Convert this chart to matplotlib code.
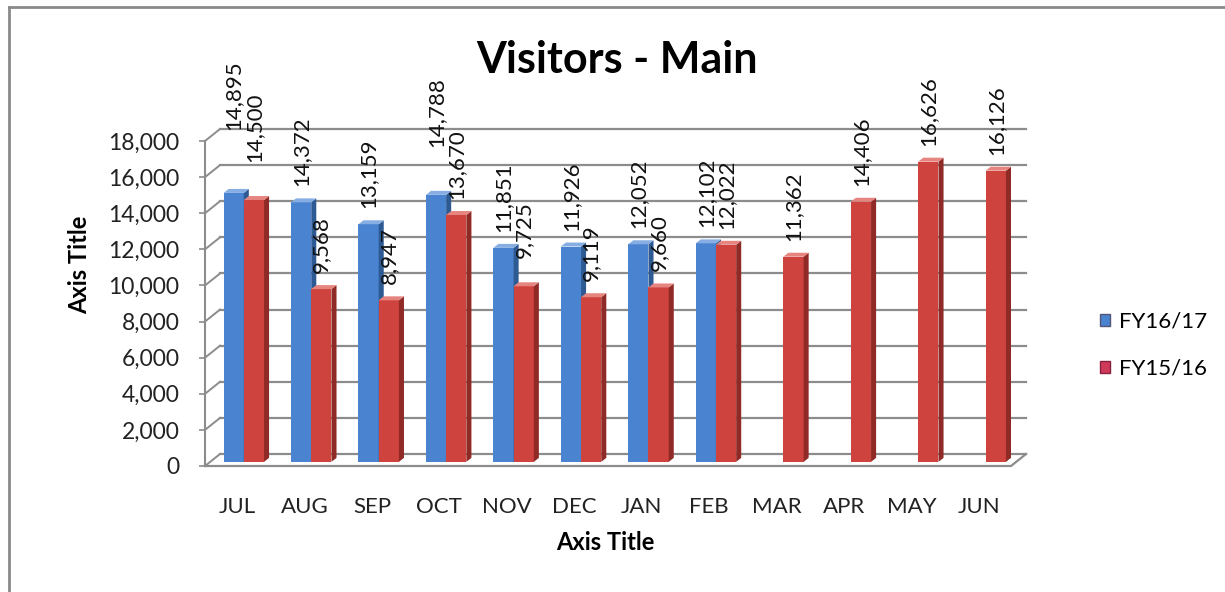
import matplotlib.pyplot as plt
from matplotlib.patches import Polygon, Rectangle, Patch
from matplotlib.lines import Line2D
import numpy as np

plt.rcParams['font.family'] = ['Lato', 'DejaVu Sans']

months = ["JUL", "AUG", "SEP", "OCT", "NOV", "DEC", "JAN", "FEB", "MAR", "APR", "MAY", "JUN"]
fy1617 = [14895, 14372, 13159, 14788, 11851, 11926, 12052, 12102, np.nan, np.nan, np.nan, np.nan]
fy1516 = [14500, 9568, 8947, 13670, 9725, 9119, 9660, 12022, 11362, 14406, 16626, 16126]
yticks = list(range(0, 18001, 2000))

# style
blue = ("#4A83CF", "#2E5A93", "#86AEE2")   # front, side, top
red = ("#CF433E", "#8F2A27", "#E68580")
grid_c = "#8C8C8C"
dxw, dyw = 0.223, 665     # back wall offset (category units, value units)
dxb, dyb = 0.075, 220     # bar depth
lift = 230
bw = 0.3
# extra label lift (px) where excel pushed labels up
extra = {(0, 0): 47, (1, 0): 22, (0, 3): 32, (1, 4): 12}

fig = plt.figure(figsize=(12.25, 5.92), dpi=100)
ax = fig.add_axes([205/1225, 126/592, 806/1225, 325/592])
x0, x1 = -0.475, 11.475
ax.set_xlim(x0, x1)
ax.set_ylim(0, 18000)
for s in ["top", "right", "bottom"]:
    ax.spines[s].set_visible(False)
ax.spines["left"].set_color(grid_c)
ax.spines["left"].set_linewidth(1.5)

# back wall grid + left wall diagonals
for v in yticks:
    ax.plot([x0 + dxw, x1 + dxw], [v + dyw, v + dyw], color=grid_c, lw=1.6, clip_on=False, zorder=1)
    ax.plot([x0, x0 + dxw], [v, v + dyw], color=grid_c, lw=1.4, clip_on=False, zorder=1)
# floor
ax.plot([x0, x1, x1 + dxw], [0, 0, dyw], color=grid_c, lw=1.6, clip_on=False, zorder=1)

def bar3d(x, v, cols):
    b = lift
    ax.add_patch(Rectangle((x, b), bw, v, facecolor=cols[0], edgecolor="none", zorder=3))
    ax.add_patch(Polygon([(x + bw, b), (x + bw + dxb, b + dyb), (x + bw + dxb, b + v + dyb), (x + bw, b + v)],
                         facecolor=cols[1], edgecolor="none", zorder=3))
    ax.add_patch(Polygon([(x, b + v), (x + dxb, b + v + dyb), (x + bw + dxb, b + v + dyb), (x + bw, b + v)],
                         facecolor=cols[2], edgecolor="none", zorder=3))

for i in range(len(months)):
    for k, (vals, cols) in enumerate([(fy1617, blue), (fy1516, red)]):
        v = vals[i]
        if np.isnan(v):
            continue
        x = i - 0.2 + k * bw
        bar3d(x, v, cols)
        gap = (12 + extra.get((k, i), 0)) * 0.72
        ax.annotate(f"{int(v):,}", (x + bw / 2, v + lift + dyb), xytext=(0, gap),
                    textcoords="offset points", rotation=90, ha="center", va="bottom",
                    fontsize=16, color="#111111", zorder=5, annotation_clip=False)

ax.set_yticks(yticks)
ax.set_yticklabels([f"{t:,}" for t in yticks])
ax.tick_params(axis="y", direction="out", length=4.5, width=1.2, color=grid_c, pad=14,
               labelsize=16.5, labelcolor="#222222")
ax.set_xticks(range(len(months)))
ax.set_xticklabels(months)
ax.tick_params(axis="x", length=0, pad=22, labelsize=16, labelcolor="#222222")

fig.text(617/1225, 1 - 60/592, "Visitors - Main", ha="center", va="center", fontsize=31, fontweight="bold")
fig.text(605/1225, 1 - 543/592, "Axis Title", ha="center", va="center", fontsize=17, fontweight="bold")
fig.text(80/1225, 1 - 265/592, "Axis Title", ha="center", va="center", rotation=90, fontsize=17, fontweight="bold")

handles = [Patch(facecolor=blue[0], edgecolor="#555577", label="FY16/17"),
           Patch(facecolor="#D03A5A", edgecolor="#8a2040", label="FY15/16")]
fig.legend(handles=handles, loc="upper left", bbox_to_anchor=(1080/1225, 1 - 292/592), frameon=False,
           fontsize=16, handlelength=0.45, handleheight=0.45, handletextpad=0.4, labelspacing=1.2)

# chart border
fig.add_artist(Line2D([9/1225, 1], [1 - 7/592, 1 - 7/592], color="#8a8a8a", lw=2))
fig.add_artist(Line2D([9/1225, 9/1225], [0, 1 - 7/592], color="#8a8a8a", lw=2))

fig.savefig("out.png", dpi=100)
